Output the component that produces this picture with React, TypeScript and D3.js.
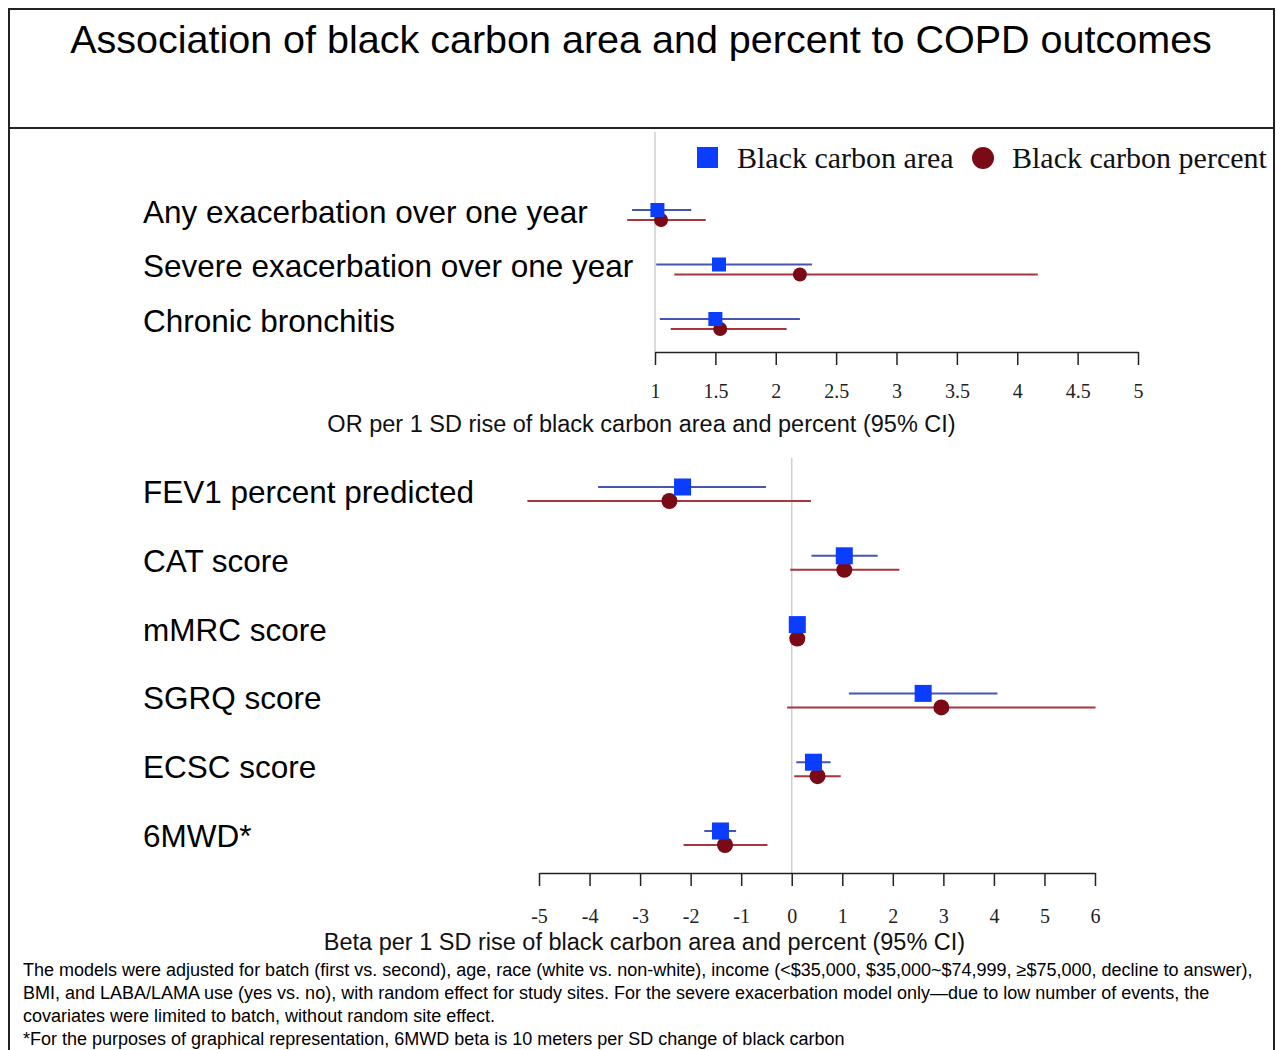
import React, { useEffect, useRef } from "react";
import * as d3 from "d3";

// ===== data =====
const topLabels = [
  "Any exacerbation over one year",
  "Severe exacerbation over one year",
  "Chronic bronchitis",
];
const topAreaEst = [1.02, 1.53, 1.5];
const topAreaLo = [0.81, 1.01, 1.04];
const topAreaHi = [1.3, 2.3, 2.2];
const topPctEst = [1.05, 2.2, 1.54];
const topPctLo = [0.77, 1.16, 1.13];
const topPctHi = [1.42, 4.17, 2.09];
const topTicks = [1, 1.5, 2, 2.5, 3, 3.5, 4, 4.5, 5];

const botLabels = [
  "FEV1 percent predicted",
  "CAT score",
  "mMRC score",
  "SGRQ score",
  "ECSC score",
  "6MWD*",
];
const botAreaEst = [-2.16, 1.04, 0.11, 2.6, 0.43, -1.41];
const botAreaLo = [-3.83, 0.39, 0.06, 1.13, 0.09, -1.73];
const botAreaHi = [-0.51, 1.7, 0.16, 4.07, 0.77, -1.1];
const botPctEst = [-2.42, 1.04, 0.11, 2.96, 0.51, -1.32];
const botPctLo = [-5.23, -0.03, 0.06, -0.09, 0.05, -2.14];
const botPctHi = [0.38, 2.13, 0.16, 6.01, 0.97, -0.48];
const botTicks = [-5, -4, -3, -2, -1, 0, 1, 2, 3, 4, 5, 6];

const title = "Association of black carbon area and percent to COPD outcomes";
const legendNames = ["Black carbon area", "Black carbon percent"];
const topAxisTitle = "OR per 1 SD rise of black carbon area and percent (95% CI)";
const botAxisTitle = "Beta per 1 SD rise of black carbon area and percent (95% CI)";
const footnotes = [
  "The models were adjusted for batch (first vs. second), age, race (white vs. non-white), income (<$35,000, $35,000~$74,999, \u2265$75,000, decline to answer),",
  "BMI, and LABA/LAMA use (yes vs. no), with random effect for study sites. For the severe exacerbation model only\u2014due to low number of events, the",
  "covariates were limited to batch, without random site effect.",
  "*For the purposes of graphical representation, 6MWD beta is 10 meters per SD change of black carbon",
];

const SANS = "'Liberation Sans', Arial, sans-serif";
const SERIF = "'Liberation Serif', 'Times New Roman', serif";
const BLUE = "#0a3dff";
const BLUE_LINE = "#4656b0";
const RED = "#7a0a16";
const RED_LINE = "#a8343e";

export default function App() {
  const svgRef = useRef<SVGSVGElement | null>(null);

  useEffect(() => {
    const W = 1276;
    const H = 1050;
    const svg = d3.select(svgRef.current);
    svg.selectAll("*").remove();
    svg.attr("width", W).attr("height", H);

    svg.append("rect").attr("width", W).attr("height", H).attr("fill", "#fff");

    // === frame ===
    svg.append("rect")
      .attr("x", 9).attr("y", 9)
      .attr("width", 1265).attr("height", 1100)
      .attr("fill", "none").attr("stroke", "#222").attr("stroke-width", 2);
    svg.append("line")
      .attr("x1", 9).attr("x2", 1274).attr("y1", 128).attr("y2", 128)
      .attr("stroke", "#222").attr("stroke-width", 2);

    svg.append("text")
      .attr("x", 641).attr("y", 53)
      .attr("text-anchor", "middle")
      .attr("font-family", SANS).attr("font-size", 39.5)
      .attr("fill", "#000")
      .text(title);

    // === generic forest panel ===
    const panel = (opts: {
      labels: string[];
      aEst: number[]; aLo: number[]; aHi: number[];
      pEst: number[]; pLo: number[]; pHi: number[];
      ticks: number[];
      x: d3.ScaleLinear<number, number>;
      y: d3.ScalePoint<string>;
      ref: number;
      refTop: number;
      axisY: number;
      offset: number;
      labelShift: number;
      sq: number;
      r: number;
      labelSize: number;
      tickPad: number;
      axisTitle: string;
      axisTitleX: number;
      axisTitleY: number;
    }) => {
      const { x, y } = opts;
      const g = svg.append("g");

      g.append("line")
        .attr("x1", x(opts.ref)).attr("x2", x(opts.ref))
        .attr("y1", opts.refTop).attr("y2", opts.axisY)
        .attr("stroke", "#cfcfcf").attr("stroke-width", 1.5);

      const rows = opts.labels.map((l, i) => ({
        label: l,
        aEst: opts.aEst[i], aLo: opts.aLo[i], aHi: opts.aHi[i],
        pEst: opts.pEst[i], pLo: opts.pLo[i], pHi: opts.pHi[i],
      }));

      g.selectAll(".lab")
        .data(rows)
        .enter()
        .append("text")
        .attr("x", 143)
        .attr("y", (d) => (y(d.label) as number) + opts.labelShift)
        .attr("dy", "0.35em")
        .attr("font-family", SANS).attr("font-size", opts.labelSize)
        .attr("fill", "#000")
        .text((d) => d.label);

      // red CI
      g.selectAll(".pci")
        .data(rows)
        .enter()
        .append("line")
        .attr("x1", (d) => x(d.pLo)).attr("x2", (d) => x(d.pHi))
        .attr("y1", (d) => (y(d.label) as number) + opts.offset)
        .attr("y2", (d) => (y(d.label) as number) + opts.offset)
        .attr("stroke", RED_LINE).attr("stroke-width", 2);

      // blue CI
      g.selectAll(".aci")
        .data(rows)
        .enter()
        .append("line")
        .attr("x1", (d) => x(d.aLo)).attr("x2", (d) => x(d.aHi))
        .attr("y1", (d) => y(d.label) as number)
        .attr("y2", (d) => y(d.label) as number)
        .attr("stroke", BLUE_LINE).attr("stroke-width", 2);

      g.selectAll(".pm")
        .data(rows)
        .enter()
        .append("circle")
        .attr("cx", (d) => x(d.pEst))
        .attr("cy", (d) => (y(d.label) as number) + opts.offset)
        .attr("r", opts.r)
        .attr("fill", RED);

      g.selectAll(".am")
        .data(rows)
        .enter()
        .append("rect")
        .attr("x", (d) => x(d.aEst) - opts.sq / 2)
        .attr("y", (d) => (y(d.label) as number) - opts.sq / 2)
        .attr("width", opts.sq).attr("height", opts.sq)
        .attr("fill", BLUE);

      // === axis ===
      const ax = g.append("g")
        .attr("transform", `translate(0,${opts.axisY})`)
        .call(
          d3.axisBottom(x)
            .tickValues(opts.ticks)
            .tickSize(13)
            .tickSizeOuter(0)
            .tickPadding(opts.tickPad)
            .tickFormat((d) => String(d))
        );
      ax.selectAll("text")
        .attr("font-family", SERIF).attr("font-size", 20).attr("fill", "#222");
      ax.selectAll(".domain, .tick line")
        .attr("stroke", "#222").attr("stroke-width", 1.5);

      g.append("text")
        .attr("x", opts.axisTitleX).attr("y", opts.axisTitleY)
        .attr("text-anchor", "middle")
        .attr("font-family", SANS).attr("font-size", 23.5)
        .attr("fill", "#111")
        .text(opts.axisTitle);
    };

    panel({
      labels: topLabels,
      aEst: topAreaEst, aLo: topAreaLo, aHi: topAreaHi,
      pEst: topPctEst, pLo: topPctLo, pHi: topPctHi,
      ticks: topTicks,
      x: d3.scaleLinear().domain([1, 5]).range([655, 1138]),
      y: d3.scalePoint<string>().domain(topLabels).range([210, 319]),
      ref: 1,
      refTop: 132,
      axisY: 352,
      offset: 10,
      labelShift: 1.5,
      sq: 14,
      r: 7,
      labelSize: 31.5,
      tickPad: 19,
      axisTitle: topAxisTitle,
      axisTitleX: 641.5,
      axisTitleY: 432,
    });

    panel({
      labels: botLabels,
      aEst: botAreaEst, aLo: botAreaLo, aHi: botAreaHi,
      pEst: botPctEst, pLo: botPctLo, pHi: botPctHi,
      ticks: botTicks,
      x: d3.scaleLinear().domain([-5, 6]).range([539, 1095]),
      y: d3.scalePoint<string>().domain(botLabels).range([487, 831]),
      ref: 0,
      refTop: 458,
      axisY: 873,
      offset: 14,
      labelShift: 5,
      sq: 17,
      r: 8,
      labelSize: 31.5,
      tickPad: 23,
      axisTitle: botAxisTitle,
      axisTitleX: 644.5,
      axisTitleY: 950,
    });

    // === legend ===
    const leg = svg.append("g");
    leg.append("rect")
      .attr("x", 697).attr("y", 147).attr("width", 21).attr("height", 21)
      .attr("fill", BLUE);
    leg.append("text")
      .attr("x", 737).attr("y", 168)
      .attr("font-family", SERIF).attr("font-size", 30).attr("fill", "#111")
      .text(legendNames[0]);
    leg.append("circle")
      .attr("cx", 983).attr("cy", 158).attr("r", 11)
      .attr("fill", RED);
    leg.append("text")
      .attr("x", 1012).attr("y", 168)
      .attr("font-family", SERIF).attr("font-size", 30).attr("fill", "#111")
      .text(legendNames[1]);

    // === footnotes ===
    svg.append("g")
      .selectAll("text")
      .data(footnotes)
      .enter()
      .append("text")
      .attr("x", 23)
      .attr("y", (d, i) => 976 + i * 23)
      .attr("font-family", SANS).attr("font-size", 18).attr("fill", "#000")
      .text((d) => d);
  }, []);

  return (
    <div style={{ position: "absolute", left: 0, top: 0 }}>
      <svg ref={svgRef}></svg>
    </div>
  );
}
